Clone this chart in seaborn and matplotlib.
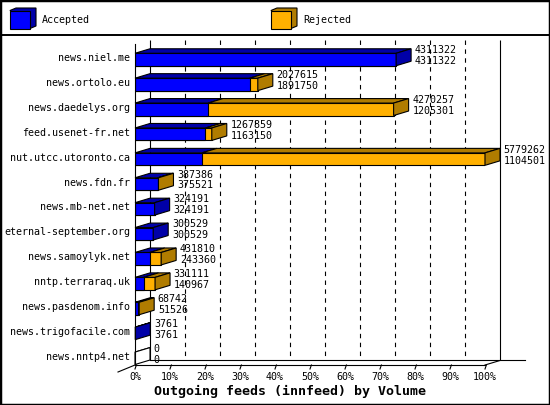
import matplotlib

matplotlib.use("Agg")
import matplotlib.pyplot as plt
import pandas as pd
import seaborn as sns
from matplotlib.lines import Line2D
from matplotlib.patches import Polygon, Rectangle

feeds = [
    "news.niel.me",
    "news.ortolo.eu",
    "news.daedelys.org",
    "feed.usenet-fr.net",
    "nut.utcc.utoronto.ca",
    "news.fdn.fr",
    "news.mb-net.net",
    "eternal-september.org",
    "news.samoylyk.net",
    "nntp.terraraq.uk",
    "news.pasdenom.info",
    "news.trigofacile.com",
    "news.nntp4.net",
]
total_volume = [4311322, 2027615, 4270257, 1267859, 5779262, 387386, 324191,
                300529, 431810, 331111, 68742, 3761, 0]
accepted_volume = [4311322, 1891750, 1205301, 1163150, 1104501, 375521, 324191,
                   300529, 243360, 140967, 51526, 3761, 0]
tick_values = [0, 10, 20, 30, 40, 50, 60, 70, 80, 90, 100]
legend_labels = ["Accepted", "Rejected"]

BLUE = "#0000ff"
BLUE_DARK = "#0000a8"
ORANGE = "#ffb000"
ORANGE_DARK = "#b07c00"
FONT = "DejaVu Sans Mono"
W, H = 550, 405

df = pd.DataFrame({"feed": feeds, "total": total_volume, "accepted": accepted_volume})
peak = df["total"].max()
df["total_pct"] = df["total"] / peak * 100
df["acc_pct"] = df["accepted"] / peak * 100

fig = plt.figure(figsize=(W / 100, H / 100), dpi=100)

# pixel layout of the plot box: 0% at x=135, 100% at x=485, rows every ~25px
PITCH = 24.9
ROW0 = 59.5
AX_TOP, AX_BOT = 36, 365
ax = fig.add_axes([135 / W, 1 - AX_BOT / H, 350 / W, (AX_BOT - AX_TOP) / H])

DX = 15 / 3.5          # depth in x (percent units)
DY = 4.5 / PITCH       # depth in y (row units)
floor = (AX_BOT - ROW0) / PITCH
lw = 0.8

# back wall: dashed grid + frame
back_top = (40 - ROW0) / PITCH
ax.vlines([DX + v for v in tick_values[1:-1]], back_top, floor - DY,
          colors="black", linestyles=(0, (4, 4)), linewidth=lw, zorder=1)
ax.vlines([DX, DX + 100], back_top, floor - DY, colors="black", linewidth=lw,
          zorder=1, clip_on=False)

# front faces via seaborn
sns.barplot(data=df, x="total_pct", y="feed", color=ORANGE, saturation=1,
            width=0.5, edgecolor="black", linewidth=lw, errorbar=None, ax=ax,
            zorder=3)
sns.barplot(data=df, x="acc_pct", y="feed", color=BLUE, saturation=1,
            width=0.5, edgecolor="black", linewidth=lw, errorbar=None, ax=ax,
            zorder=3)

# 3d top and side faces
for i, row in df.iterrows():
    top, bot = i - 0.25, i + 0.25
    a, t = row["acc_pct"], row["total_pct"]
    segs = [(0, a, BLUE_DARK), (a, t, ORANGE_DARK)]
    if t == 0:
        segs = [(0, 0, "white")]
    for x0, x1, c in segs:
        if x1 > x0 or t == 0:
            ax.add_patch(Polygon([(x0, top), (x0 + DX, top - DY), (x1 + DX, top - DY),
                                  (x1, top)], closed=True, fc=c, ec="black",
                                 lw=lw, zorder=4, clip_on=False))
    side = "white" if t == 0 else (ORANGE_DARK if t > a else BLUE_DARK)
    ax.add_patch(Polygon([(t, top), (t + DX, top - DY), (t + DX, bot - DY), (t, bot)],
                         closed=True, fc=side, ec="black", lw=lw, zorder=4,
                         clip_on=False))
    ax.text(t + DX + 1.05, i - 0.38, f"{row['total']}", ha="left", va="center",
            fontsize=7.2, family=FONT, zorder=6, clip_on=False)
    ax.text(t + DX + 1.05, i + 0.06, f"{row['accepted']}", ha="left", va="center",
            fontsize=7.2, family=FONT, zorder=6, clip_on=False)
    ax.text(-5 / 3.5, i - 0.06, row["feed"], ha="right", va="center",
            fontsize=7.2, family=FONT, clip_on=False)

# front axis and floor
front_top = (44 - ROW0) / PITCH
frame = [
    ([0, 0], [front_top, floor]),
    ([0, 100], [floor, floor]),
    ([100, 100 + DX], [floor, floor - DY]),
    ([DX, 100 + DX + 25 / 3.5], [floor - DY, floor - DY]),
    ([-17 / 3.5, 0], [floor + 7 / PITCH, floor]),
]
for xs, ys in frame:
    ax.add_line(Line2D(xs, ys, color="black", lw=lw, zorder=5, clip_on=False))

for v in tick_values:
    ax.add_line(Line2D([v, v + 0.4], [floor + 4 / PITCH, floor], color="black",
                       lw=lw, zorder=5, clip_on=False))
    ax.text(v, (377 - ROW0) / PITCH, f"{v}%", ha="center", va="center",
            fontsize=7.2, family=FONT, clip_on=False)

ax.set_xlim(0, 100)
ax.set_ylim(floor, (AX_TOP - ROW0) / PITCH)
ax.set_axis_off()

fig.text(290 / W, 1 - 391 / H, "Outgoing feeds (innfeed) by Volume", ha="center",
         va="center", fontsize=9.5, fontweight="bold", family=FONT)


# legend cubes, placed in pixel space
def px(x, y):
    return (x / W, 1 - y / H)


for x0, front, dark, label in [(10, BLUE, BLUE_DARK, legend_labels[0]),
                               (271, ORANGE, ORANGE_DARK, legend_labels[1])]:
    fig.patches.append(Polygon([px(x0, 10.5), px(x0 + 6, 8), px(x0 + 26, 8),
                                px(x0 + 26, 26), px(x0 + 20, 28.5)], closed=True,
                               fc=dark, ec="black", lw=lw,
                               transform=fig.transFigure, figure=fig))
    fig.patches.append(Polygon([px(x0, 10.5), px(x0 + 20, 10.5), px(x0 + 20, 28.5),
                                px(x0, 28.5)], closed=True, fc=front, ec="black",
                               lw=lw, transform=fig.transFigure, figure=fig))
    fig.text(*px(x0 + 32, 20), label, ha="left", va="center", fontsize=7.2,
             family=FONT)

fig.lines.append(Line2D([0, 1], [1 - 35 / H] * 2, color="black", lw=1.4,
                        transform=fig.transFigure, figure=fig))
fig.patches.append(Rectangle((0, 0), 1, 1, fill=False, ec="black", lw=2.5,
                             transform=fig.transFigure, figure=fig))

fig.savefig("out.png", dpi=100)
